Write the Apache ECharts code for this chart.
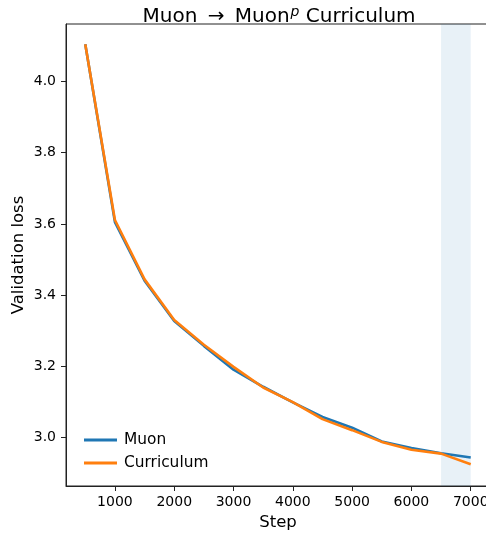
<!DOCTYPE html>
<html>
<head>
<meta charset="utf-8">
<script src="https://cdn.jsdelivr.net/npm/echarts@6/dist/echarts.min.js"></script>
<style>
html,body{margin:0;padding:0;background:#fff;}
#chart{width:486px;height:535px;}
</style>
</head>
<body>
<div id="chart"></div>
<script>
var steps = [500, 1000, 1500, 2000, 2500, 3000, 3500, 4000, 4500, 5000, 5500, 6000, 6500, 7000];
var muon = [4.105, 3.605, 3.440, 3.327, 3.257, 3.190, 3.142, 3.098, 3.057, 3.027, 2.988, 2.970, 2.955, 2.943];
var curriculum = [4.105, 3.611, 3.444, 3.330, 3.260, 3.198, 3.140, 3.099, 3.051, 3.020, 2.987, 2.965, 2.954, 2.924];
var xTicks = [1000, 2000, 3000, 4000, 5000, 6000, 7000];
var yTicks = [3.0, 3.2, 3.4, 3.6, 3.8, 4.0];
var shadedSpan = [6500, 7000];

function pairs(xs, ys) { return xs.map(function (x, i) { return [x, ys[i]]; }); }

var FONT = 'DejaVu Sans';
var chart = echarts.init(document.getElementById('chart'), null, {renderer: 'canvas'});
chart.setOption({
  animation: false,
  backgroundColor: '#ffffff',
  textStyle: {fontFamily: FONT},
  title: {
    text: '{n|Muon }{a|→}{n| Muon}{s|p}{n| Curriculum}',
    left: 274, top: 0, textAlign: 'center',
    textStyle: {
      fontWeight: 'normal',
      rich: {
        n: {fontFamily: FONT, fontSize: 20, fontWeight: 'normal', color: '#000'},
        a: {fontFamily: FONT, fontSize: 20, fontWeight: 'normal', color: '#000', padding: [0, 4, 0, 4]},
        s: {fontFamily: FONT, fontSize: 14, fontWeight: 'normal', fontStyle: 'italic', color: '#000', padding: [0, 0, 9, 1]}
      }
    }
  },
  grid: {
    left: 66, top: 24, right: -4, bottom: 49,
    show: true, borderColor: '#222', borderWidth: 1,
    containLabel: false, outerBoundsMode: 'none'
  },
  legend: {
    orient: 'vertical', left: 79, top: 427,
    icon: 'rect', itemWidth: 33, itemHeight: 3, itemGap: 7,
    textStyle: {fontFamily: FONT, fontSize: 15.4, color: '#000', lineHeight: 16, padding: [0, 0, 0, 2]},
    data: ['Muon', 'Curriculum']
  },
  xAxis: {
    type: 'value', min: 175, max: 7325,
    name: 'Step', nameLocation: 'middle', nameGap: 28,
    nameTextStyle: {fontFamily: FONT, fontSize: 16.5, color: '#000'},
    axisLine: {show: true, lineStyle: {color: '#222', width: 1}},
    axisTick: {show: true, length: 5, customValues: xTicks, lineStyle: {color: '#222'}},
    axisLabel: {customValues: xTicks, fontFamily: FONT, fontSize: 14, color: '#000', margin: 9,
      formatter: function (v) { return String(v); }},
    splitLine: {show: false}
  },
  yAxis: {
    type: 'value', min: 2.863, max: 4.162,
    name: 'Validation loss', nameLocation: 'middle', nameGap: 39, nameRotate: 90,
    nameMoveOverlap: false,
    nameTextStyle: {fontFamily: FONT, fontSize: 16.5, color: '#000'},
    axisLine: {show: true, lineStyle: {color: '#222', width: 1}},
    axisTick: {show: true, length: 5, customValues: yTicks, lineStyle: {color: '#222'}},
    axisLabel: {customValues: yTicks, fontFamily: FONT, fontSize: 14, color: '#000', margin: 10,
      formatter: function (v) { return v.toFixed(1); }},
    splitLine: {show: false}
  },
  series: [
    {
      name: 'Muon', type: 'line', data: pairs(steps, muon),
      showSymbol: false, symbol: 'none', color: '#1f77b4',
      lineStyle: {width: 2.6, color: '#1f77b4'}, z: 3,
      markArea: {
        silent: true,
        itemStyle: {color: 'rgba(31,119,180,0.1)'},
        data: [[{xAxis: shadedSpan[0]}, {xAxis: shadedSpan[1]}]]
      }
    },
    {
      name: 'Curriculum', type: 'line', data: pairs(steps, curriculum),
      showSymbol: false, symbol: 'none', color: '#ff7f0e',
      lineStyle: {width: 2.6, color: '#ff7f0e'}, z: 4
    }
  ]
});
</script>
</body>
</html>
